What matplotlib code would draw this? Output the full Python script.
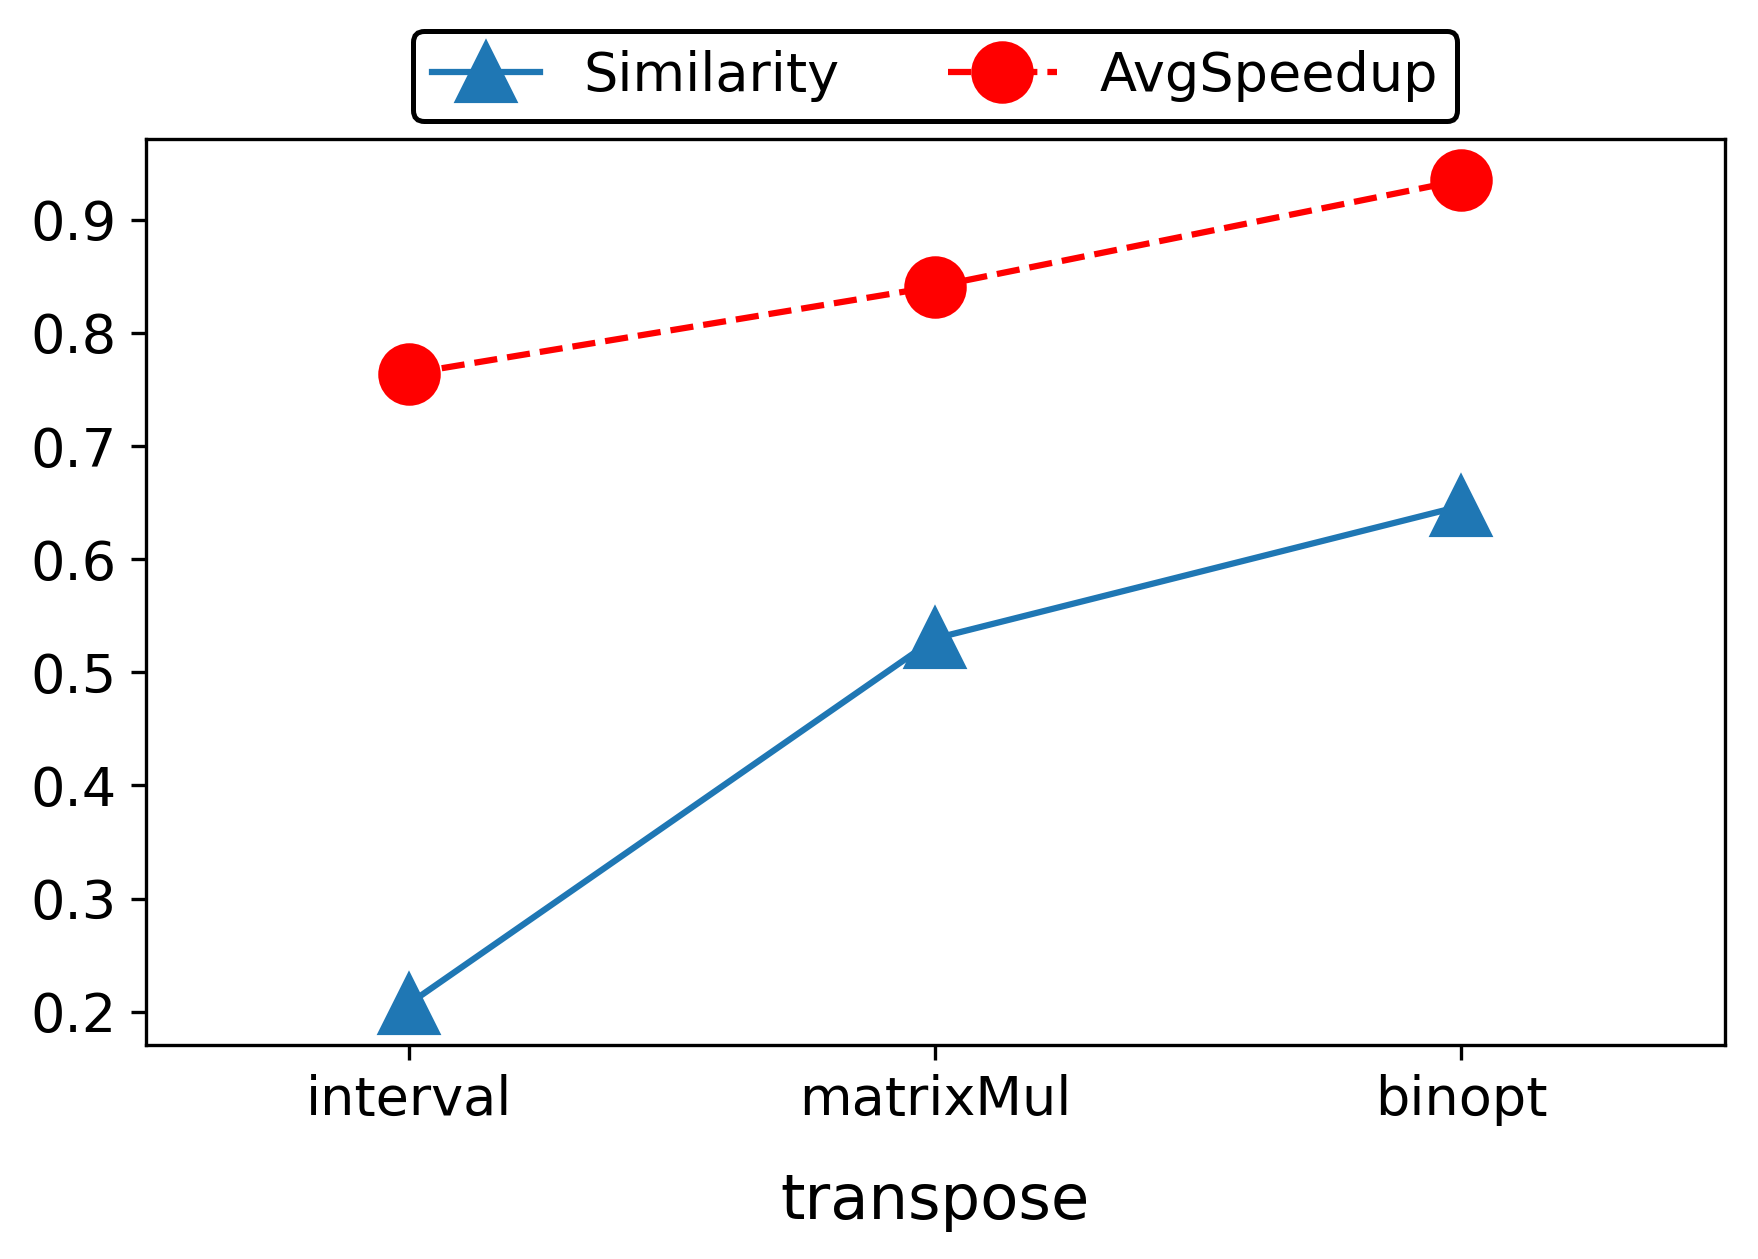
import matplotlib
matplotlib.use("Agg")
import matplotlib.pyplot as plt
from matplotlib.ticker import MultipleLocator

categories = ["interval", "matrixMul", "binopt"]
similarity = [0.207, 0.530, 0.647]
avg_speedup = [0.764, 0.841, 0.935]
xlabel = "transpose"

fig = plt.figure(figsize=(1758/300, 1259/300), dpi=300)
ax = fig.add_axes([0.083, 0.170, 0.898, 0.7196])
x = list(range(len(categories)))
ax.plot(x, similarity, color="#1f77b4", linestyle="-", marker="^", markersize=14, linewidth=1.5, label="Similarity")
ax.plot(x, avg_speedup, color="red", linestyle="--", marker="o", markersize=14, linewidth=1.5, label="AvgSpeedup")
ax.set_xticks(x)
ax.set_xticklabels(categories)
ax.set_xlim(-0.5, 2.5)
ax.yaxis.set_major_locator(MultipleLocator(0.1))
ax.tick_params(labelsize=13)
ax.set_xlabel(xlabel, fontsize=15, labelpad=11)
leg = ax.legend(loc="lower center", bbox_to_anchor=(0.5, 1.0), ncol=2, fontsize=13,
                frameon=True, fancybox=True, edgecolor="black", framealpha=1,
                borderaxespad=0.33, borderpad=0.35)
leg.get_frame().set_linewidth(1.2)
fig.savefig("out.png", dpi=300)
